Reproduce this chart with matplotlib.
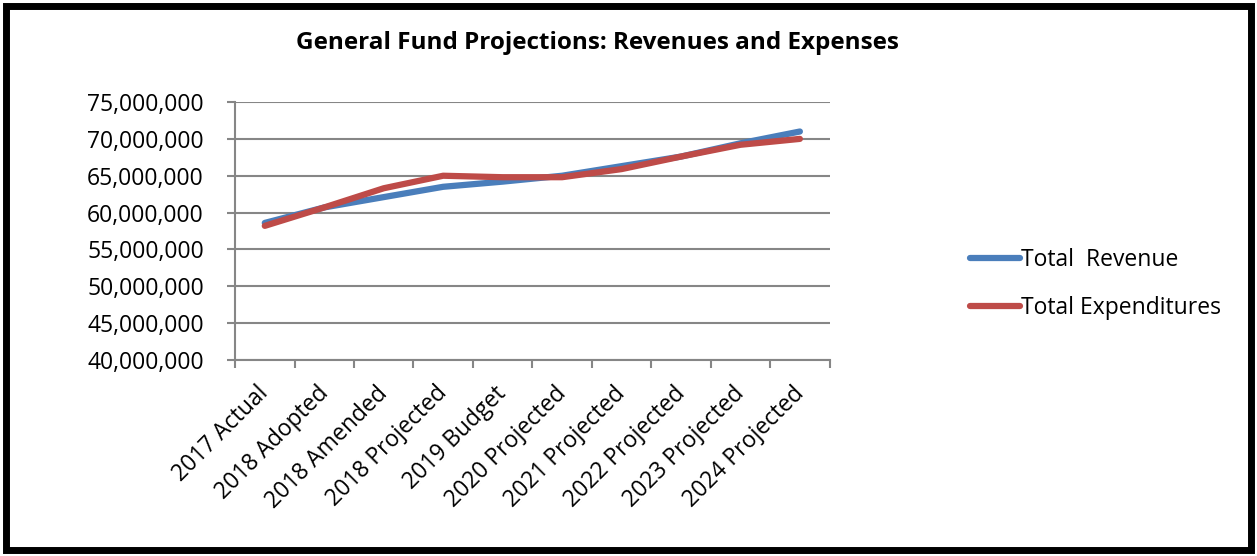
import matplotlib.pyplot as plt
from matplotlib.patches import Rectangle
from matplotlib.ticker import FuncFormatter
from matplotlib.transforms import ScaledTranslation
import numpy as np

categories = ['2017 Actual', '2018 Adopted', '2018 Amended', '2018 Projected',
              '2019 Budget', '2020 Projected', '2021 Projected', '2022 Projected',
              '2023 Projected', '2024 Projected']
revenue = [58.6e6, 60.7e6, 62.1e6, 63.5e6, 64.2e6, 65.0e6, 66.3e6, 67.6e6, 69.4e6, 71.0e6]
expenses = [58.2e6, 60.7e6, 63.3e6, 65.0e6, 64.8e6, 64.8e6, 65.9e6, 67.6e6, 69.2e6, 70.0e6]

plt.rcParams['font.family'] = ['Open Sans', 'DejaVu Sans']

fig = plt.figure(figsize=(12.57, 5.56), dpi=100)
ax = fig.add_axes([0.187, 0.3525, 0.473, 0.464])

x = np.arange(len(categories))
ax.plot(x, revenue, color='#4a7ebb', lw=4.5, solid_capstyle='round', label='Total  Revenue')
ax.plot(x, expenses, color='#be4b48', lw=4.5, solid_capstyle='round', label='Total Expenditures')

ax.set_xlim(-0.5, len(categories) - 0.5)
ax.set_ylim(40e6, 75e6)
ax.set_yticks(np.arange(40e6, 75e6 + 1, 5e6))
ax.yaxis.set_major_formatter(FuncFormatter(lambda v, p: f'{v:,.0f}'))
ax.grid(axis='y', color='#868686', lw=1.5)
ax.set_axisbelow(True)

ax.set_xticks(x)
ax.set_xticklabels(categories, rotation=45, ha='right', rotation_mode='anchor', fontsize=16.5)
ax.tick_params(axis='x', length=0, pad=6)
# nudge the slanted labels down-left like the original
offset = ScaledTranslation(-8 / 100, -13 / 100, fig.dpi_scale_trans)
for lab in ax.get_xticklabels():
    lab.set_transform(lab.get_transform() + offset)
ax.set_xticks(np.arange(-0.5, len(categories), 1), minor=True)
ax.tick_params(axis='x', which='minor', length=5.5, color='#868686', width=1.5)
ax.tick_params(axis='y', labelsize=16.5, length=5.5, color='#868686', width=1.5, pad=17)

for s in ['top', 'right']:
    ax.spines[s].set_visible(False)
for s in ['left', 'bottom']:
    ax.spines[s].set_color('#868686')
    ax.spines[s].set_linewidth(1.5)

fig.text(0.475, 0.922, 'General Fund Projections: Revenues and Expenses',
         ha='center', va='center', fontsize=17.5, fontweight='bold')

fig.legend(loc='center left', bbox_to_anchor=(0.755, 0.49), frameon=False,
           fontsize=16.5, handlelength=2.2, handletextpad=0.05, labelspacing=1.05)

fig.patches.append(Rectangle((0.005, 0.01), 0.99, 0.98, transform=fig.transFigure,
                             fill=False, edgecolor='black', lw=5))

fig.savefig('out.png', dpi=100)
